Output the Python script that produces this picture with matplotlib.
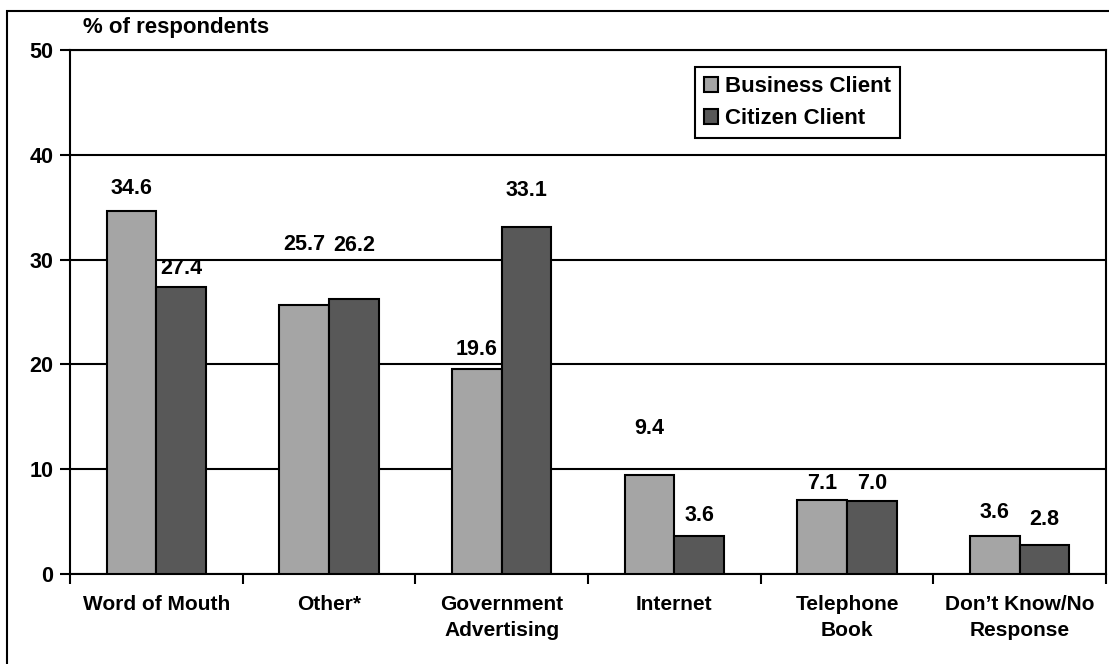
import matplotlib.pyplot as plt
import numpy as np
from matplotlib.patches import Rectangle
from matplotlib.ticker import FixedLocator

plt.rcParams['font.family'] = ['Liberation Sans', 'DejaVu Sans']
plt.rcParams['font.weight'] = 'bold'
plt.rcParams['font.size'] = 15

categories = ["Word of Mouth", "Other*", "Government\nAdvertising", "Internet",
              "Telephone\nBook", "Don\u2019t Know/No\nResponse"]
business = [34.6, 25.7, 19.6, 9.4, 7.1, 3.6]
citizen = [27.4, 26.2, 33.1, 3.6, 7.0, 2.8]

# how far (px) each value label sits above its bar
lift_business = [23, 60, 19, 47, 16, 24]
lift_citizen = [18, 54, 37, 21, 17, 25]

W, H = 1109, 664
fig = plt.figure(figsize=(W / 100, H / 100), dpi=100)
ax = fig.add_axes([70 / W, (H - 574) / H, 1036 / W, 524 / H])

# frame around the whole chart area
fig.patches.append(Rectangle((7 / W, -0.1), 1.2, 1.1 - 11 / H, transform=fig.transFigure,
                             fill=False, edgecolor='black', linewidth=1.5, clip_on=False))

x = np.arange(len(categories))
w = 0.287
b1 = ax.bar(x - w / 2, business, w, color='#a5a5a5', edgecolor='black', linewidth=1.5,
            label='Business Client', zorder=3)
b2 = ax.bar(x + w / 2, citizen, w, color='#585858', edgecolor='black', linewidth=1.5,
            label='Citizen Client', zorder=3)

for bars, vals, lifts in [(b1, business, lift_business), (b2, citizen, lift_citizen)]:
    for rect, v, lift in zip(bars, vals, lifts):
        ax.annotate(f"{v:.1f}", (rect.get_x() + rect.get_width() / 2, v),
                    xytext=(0, lift), textcoords='offset pixels',
                    ha='center', va='center', zorder=4, fontsize=15.5)

ax.set_xlim(-0.5, len(categories) - 0.5)
ax.set_ylim(0, 50)
ax.set_yticks([0, 10, 20, 30, 40, 50])
ax.yaxis.grid(True, color='black', linewidth=1.5, zorder=0)
ax.set_axisbelow(True)

ax.set_xticks(x)
ax.set_xticklabels(categories, linespacing=1.45)
ax.xaxis.set_minor_locator(FixedLocator(np.arange(-0.5, len(categories), 1.0)))
ax.tick_params(axis='x', which='major', length=0, pad=15)
ax.tick_params(axis='x', which='minor', length=7, width=1.5, direction='out')
ax.tick_params(axis='y', length=7, width=1.5, direction='out', pad=5, labelsize=15.5)

for s in ax.spines.values():
    s.set_linewidth(1.5)

fig.text(83 / W, 1 - 27 / H, "% of respondents", ha='left', va='center', fontsize=16)

leg = ax.legend(loc='upper left', bbox_to_anchor=((695 - 70) / 1036, (574 - 67) / 524),
                borderaxespad=0, fancybox=False, framealpha=1, edgecolor='black',
                handlelength=0.65, handleheight=0.65, handletextpad=0.3,
                labelspacing=0.5, borderpad=0.4, fontsize=16)
leg.get_frame().set_linewidth(1.5)

fig.savefig("out.png", dpi=100)
